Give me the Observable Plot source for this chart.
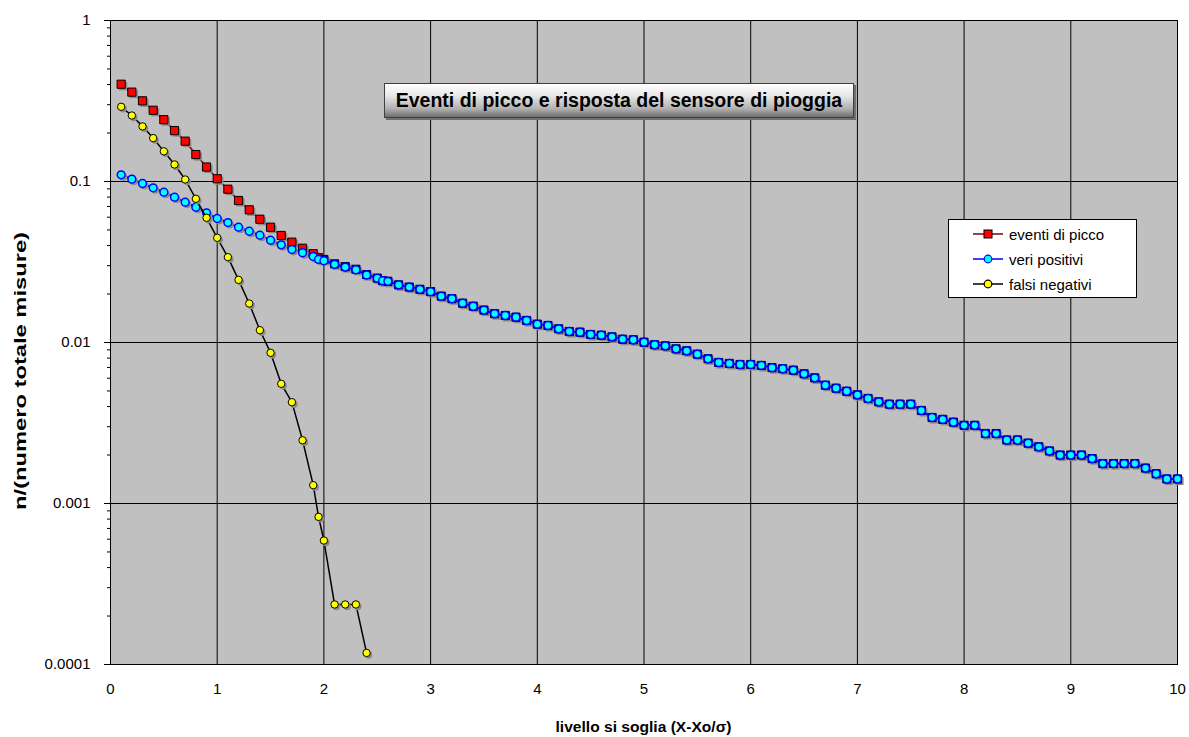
<!DOCTYPE html>
<html>
<head>
<meta charset="utf-8">
<script src="https://cdn.jsdelivr.net/npm/d3@7"></script>
<script src="https://cdn.jsdelivr.net/npm/@observablehq/plot@0.6"></script>
<style>
  html, body { margin: 0; padding: 0; background: #ffffff; }
  #wrap { position: relative; width: 1189px; height: 737px; font-family: "Liberation Sans", Arial, sans-serif; }
  #title {
    position: absolute; left: 384px; top: 83px; width: 470px; height: 35px; box-sizing: border-box;
    border: 1px solid #404040;
    background: linear-gradient(to bottom, #ffffff 0%, #e8e8e8 35%, #b0b0b0 75%, #6e6e6e 100%);
    box-shadow: 2px 2px 0 #707070;
    font-weight: bold; font-size: 19.5px; color: #000; text-align: center; line-height: 33px; white-space: nowrap;
  }
  #legend {
    position: absolute; left: 948px; top: 219px; width: 189px; height: 79px; box-sizing: border-box;
    border: 1px solid #000; background: #fff;
  }
  .lrow { position: absolute; left: 24px; height: 20px; display: flex; align-items: center; font-size: 15px; color: #000; white-space: nowrap; }
  .lrow svg { margin-right: 6px; }
</style>
</head>
<body>
<div id="wrap"></div>
<script>
// ---- data ----
const seriesNames = ["eventi di picco", "veri positivi", "falsi negativi"];
const xLabel = "livello si soglia (X-Xo/\u03C3)";
const yLabel = "n/(numero totale misure)";
const chartTitle = "Eventi di picco e risposta del sensore di pioggia";

const xTicks = [0, 1, 2, 3, 4, 5, 6, 7, 8, 9, 10];
const yTicks = [0.0001, 0.001, 0.01, 0.1, 1];
const yTickLabels = ["0.0001", "0.001", "0.01", "0.1", "1"];

// threshold levels (x) for eventi di picco and veri positivi
const xLevel = [0.1, 0.2, 0.3, 0.4, 0.5, 0.6, 0.7, 0.8, 0.9, 1.0,
  1.1, 1.2, 1.3, 1.4, 1.5, 1.6, 1.7, 1.8, 1.9, 1.95, 2.0,
  2.1, 2.2, 2.3, 2.4, 2.5, 2.55, 2.6, 2.7, 2.8, 2.9, 3.0,
  3.1, 3.2, 3.3, 3.4, 3.5, 3.6, 3.7, 3.8, 3.9, 4.0,
  4.1, 4.2, 4.3, 4.4, 4.5, 4.6, 4.7, 4.8, 4.9, 5.0,
  5.1, 5.2, 5.3, 5.4, 5.5, 5.6, 5.7, 5.8, 5.9, 6.0,
  6.1, 6.2, 6.3, 6.4, 6.5, 6.6, 6.7, 6.8, 6.9, 7.0,
  7.1, 7.2, 7.3, 7.4, 7.5, 7.6, 7.7, 7.8, 7.9, 8.0,
  8.1, 8.2, 8.3, 8.4, 8.5, 8.6, 8.7, 8.8, 8.9, 9.0,
  9.1, 9.2, 9.3, 9.4, 9.5, 9.6, 9.7, 9.8, 9.9, 10.0];

const eventiDiPicco = [0.402, 0.359, 0.317, 0.277, 0.242, 0.207, 0.178, 0.147, 0.123, 0.104,
  0.0896, 0.0762, 0.0667, 0.0583, 0.052, 0.0462, 0.042, 0.0385, 0.0356, 0.0336, 0.0328,
  0.0308, 0.0296, 0.0285, 0.0264, 0.0251, 0.0242, 0.0240, 0.0228, 0.0221, 0.0214, 0.0207,
  0.0194, 0.0187, 0.01754, 0.0168, 0.0159, 0.0151, 0.01471, 0.01437, 0.0137, 0.0130,
  0.01275, 0.01216, 0.0117, 0.01159, 0.01121, 0.0111, 0.01084, 0.01048, 0.0104, 0.01004,
  0.00968, 0.00953, 0.00913, 0.00888, 0.00846, 0.00792, 0.00751, 0.00741, 0.0073, 0.0073,
  0.0072, 0.00698, 0.00687, 0.00673, 0.00639, 0.00603, 0.00543, 0.0052, 0.00498, 0.00473,
  0.00449, 0.00428, 0.00414, 0.00414, 0.00414, 0.00378, 0.00342, 0.00333, 0.0032, 0.00306,
  0.00306, 0.00272, 0.00272, 0.00248, 0.00248, 0.00237, 0.00225, 0.00212, 0.0020, 0.0020,
  0.0020, 0.0019, 0.00177, 0.00177, 0.00177, 0.00177, 0.00166, 0.00153, 0.00142, 0.00142];

const veriPositivi = [0.110, 0.1034, 0.0972, 0.0914, 0.0858, 0.0799, 0.0744, 0.0692, 0.0639, 0.0589,
  0.0556, 0.0520, 0.0491, 0.0464, 0.0432, 0.0404, 0.0378, 0.0361, 0.0342, 0.0328, 0.0322,
  0.0306, 0.0294, 0.0283, 0.0263, 0.0251, 0.0242, 0.0240, 0.0228, 0.0221, 0.0214, 0.0207,
  0.0194, 0.0187, 0.01754, 0.0168, 0.0159, 0.0151, 0.01471, 0.01437, 0.0137, 0.0130,
  0.01275, 0.01216, 0.0117, 0.01159, 0.01121, 0.0111, 0.01084, 0.01048, 0.0104, 0.01004,
  0.00968, 0.00953, 0.00913, 0.00888, 0.00846, 0.00792, 0.00751, 0.00741, 0.0073, 0.0073,
  0.0072, 0.00698, 0.00687, 0.00673, 0.00639, 0.00603, 0.00543, 0.0052, 0.00498, 0.00473,
  0.00449, 0.00428, 0.00414, 0.00414, 0.00414, 0.00378, 0.00342, 0.00333, 0.0032, 0.00306,
  0.00306, 0.00272, 0.00272, 0.00248, 0.00248, 0.00237, 0.00225, 0.00212, 0.0020, 0.0020,
  0.0020, 0.0019, 0.00177, 0.00177, 0.00177, 0.00177, 0.00166, 0.00153, 0.00142, 0.00142];

// threshold levels (x) for falsi negativi
const xNeg = [0.1, 0.2, 0.3, 0.4, 0.5, 0.6, 0.7, 0.8, 0.9, 1.0,
  1.1, 1.2, 1.3, 1.4, 1.5, 1.6, 1.7, 1.8, 1.9, 1.95, 2.0, 2.1, 2.2, 2.3, 2.4];
const falsiNegativi = [0.291, 0.257, 0.220, 0.186, 0.154, 0.1276, 0.1029, 0.0781, 0.0595, 0.0447,
  0.0339, 0.0245, 0.01746, 0.01193, 0.00863, 0.00554, 0.00426, 0.00247, 0.0013, 0.000826,
  0.000589, 0.000236, 0.000236, 0.000236, 0.000118];

// ---- build ----
const red = xLevel.map((x, i) => ({x, y: eventiDiPicco[i]}));
const blue = xLevel.map((x, i) => ({x, y: veriPositivi[i]}));
const yellow = xNeg.map((x, i) => ({x, y: falsiNegativi[i]}));

const yMinor = [];
for (let k = 0; k < yTicks.length - 1; k++) for (let m = 2; m <= 9; m++) yMinor.push(yTicks[k] * m);

const shadow = "#8a8a8a";

const chart = Plot.plot({
  width: 1189,
  height: 737,
  marginLeft: 110,
  marginRight: 12,
  marginTop: 20,
  marginBottom: 73,
  style: {fontFamily: "'Liberation Sans', Arial, sans-serif", fontSize: "15px", background: "#ffffff", color: "#000"},
  x: {domain: [0, 10], label: null},
  y: {type: "log", domain: [0.0001, 1], label: null},
  color: {type: "identity"},
  marks: [
    Plot.frame({fill: "#c0c0c0", stroke: null}),
    Plot.gridX(xTicks, {stroke: "#000", strokeOpacity: 1, strokeWidth: 1}),
    Plot.gridY(yTicks, {stroke: "#000", strokeOpacity: 1, strokeWidth: 1}),
    Plot.frame({anchor: "left", stroke: "#000"}),
    Plot.frame({anchor: "bottom", stroke: "#000"}),
    Plot.axisY(yMinor, {tickSize: 3, tickFormat: () => "", stroke: "#000"}),
    Plot.axisY(yTicks, {tickSize: 6, tickPadding: 14, fontSize: 15, stroke: "#000",
      tickFormat: d => yTickLabels[yTicks.indexOf(d)]}),
    Plot.axisX(xTicks, {tickSize: 0, tickPadding: 19, fontSize: 15}),

    // eventi di picco
    Plot.line(red, {x: "x", y: "y", stroke: "#800000", strokeWidth: 1.5}),
    Plot.dot(red, {x: "x", y: "y", symbol: "square", r: 4.6, fill: shadow, stroke: null, dx: 2, dy: 2}),
    Plot.dot(red, {x: "x", y: "y", symbol: "square", r: 4.6,
      fill: d => d.x >= 2 ? "#00007a" : "#ff0000", stroke: d => d.x >= 2 ? "#00005a" : "#000", strokeWidth: 1}),

    // veri positivi
    Plot.line(blue, {x: "x", y: "y", stroke: "#0000ff", strokeWidth: 2}),
    Plot.dot(blue, {x: "x", y: "y", r: 3.9, fill: shadow, stroke: null, dx: 2, dy: 2, filter: d => d.x < 2}),
    Plot.dot(blue, {x: "x", y: "y", r: 3.9, fill: "#00ffff", stroke: "#0000ff", strokeWidth: 1.5}),

    // falsi negativi
    Plot.line(yellow, {x: "x", y: "y", stroke: "#000", strokeWidth: 1.5}),
    Plot.dot(yellow, {x: "x", y: "y", r: 3.7, fill: shadow, stroke: null, dx: 2, dy: 2}),
    Plot.dot(yellow, {x: "x", y: "y", r: 3.7, fill: "#ffff00", stroke: "#000", strokeWidth: 1})
  ]
});

const svg = d3.select(chart);
svg.append("text")
  .attr("transform", "translate(26,371) rotate(-90)")
  .attr("text-anchor", "middle")
  .attr("font-weight", "bold")
  .attr("font-size", 16)
  .attr("textLength", 278)
  .attr("lengthAdjust", "spacingAndGlyphs")
  .attr("fill", "#000")
  .text(yLabel);
svg.append("text")
  .attr("x", 643.5)
  .attr("y", 732)
  .attr("text-anchor", "middle")
  .attr("font-weight", "bold")
  .attr("font-size", 14)
  .attr("textLength", 176)
  .attr("lengthAdjust", "spacingAndGlyphs")
  .attr("fill", "#000")
  .text(xLabel);

const wrap = document.getElementById("wrap");
wrap.appendChild(chart);

const t = document.createElement("div");
t.id = "title";
t.textContent = chartTitle;
wrap.appendChild(t);

const legend = document.createElement("div");
legend.id = "legend";
const legendStyles = [
  {line: "#800000", fill: "#ff0000", stroke: "#000", shape: "square"},
  {line: "#0000ff", fill: "#00ffff", stroke: "#0000ff", shape: "circle"},
  {line: "#000000", fill: "#ffff00", stroke: "#000", shape: "circle"}
];
seriesNames.forEach((name, i) => {
  const s = legendStyles[i];
  const row = document.createElement("div");
  row.className = "lrow";
  row.style.top = (4 + i * 25) + "px";
  const marker = s.shape === "square"
    ? `<rect x="11" y="6" width="8" height="8" fill="${s.fill}" stroke="${s.stroke}" stroke-width="1"/>`
    : `<circle cx="15" cy="10" r="3.8" fill="${s.fill}" stroke="${s.stroke}" stroke-width="1.2"/>`;
  row.innerHTML = `<svg width="30" height="20"><line x1="0" x2="30" y1="10" y2="10" stroke="${s.line}" stroke-width="1.5"/>${marker}</svg><span>${name}</span>`;
  legend.appendChild(row);
});
wrap.appendChild(legend);
</script>
</body>
</html>
